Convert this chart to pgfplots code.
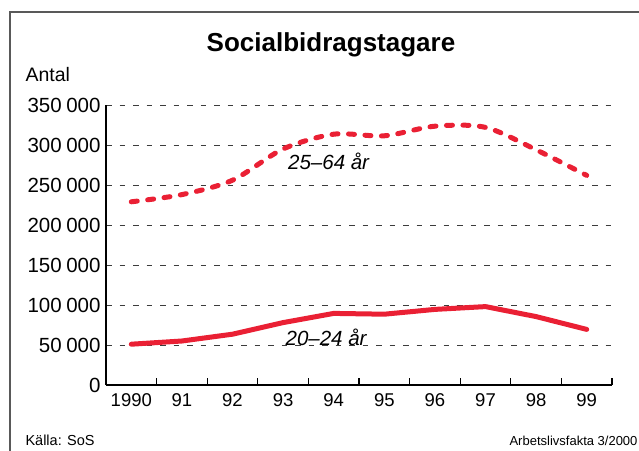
\documentclass[border=0pt]{standalone}
\usepackage{fontspec}
\setmainfont{Liberation Sans}
\usepackage{pgfplots}
\pgfplotsset{compat=1.18}
\definecolor{sred}{RGB}{234,32,52}
\definecolor{gridc}{RGB}{60,60,60}
\newcommand{\ts}{\hspace{0.22em}}
\begin{document}
\begin{tikzpicture}
% frame
\draw[line width=1.3pt, black!65] (10pt,-5pt) -- (10pt,438pt) -- (645pt,438pt);
% title
\node[font=\bfseries\fontsize{26}{29}\selectfont] at (331pt,405pt) {Socialbidragstagare};
\node[anchor=west,font=\fontsize{19.5}{22}\selectfont] at (22pt,375pt) {Antal};
\node[anchor=west,font=\fontsize{14.5}{16}\selectfont] at (22pt,10pt) {Källa: SoS};
\node[anchor=east,font=\fontsize{13}{15}\selectfont] at (641pt,9pt) {Arbetslivsfakta 3/2000};
\begin{axis}[
  at={(106pt,65pt)}, anchor=south west,
  scale only axis, width=506pt, height=280pt,
  xmin=-0.5, xmax=9.5, ymin=0, ymax=350000,
  axis x line*=bottom, axis y line*=left,
  axis line style={line width=1.2pt, black, -},
  xtick={0,...,9},
  xticklabels={1990,91,92,93,94,95,96,97,98,99},
  minor xtick={0.5,1.5,...,9.5},
  x tick style={draw=none},
  minor x tick style={draw=black, line width=1.1pt},
  minor tick length=7pt,
  tick align=inside,
  scaled y ticks=false,
  ytick={0,50000,100000,150000,200000,250000,300000,350000},
  yticklabels={0,50\ts000,100\ts000,150\ts000,200\ts000,250\ts000,300\ts000,350\ts000},
  y tick style={draw=none},
  major tick length=0pt,
  ymajorgrids,
  grid style={gridc, line width=0.9pt, dash pattern=on 5.5pt off 8pt},
  yticklabel style={font=\fontsize{20.5}{23}\selectfont, xshift=-2pt},
  xticklabel style={font=\fontsize{18.5}{21}\selectfont, yshift=-5pt},
]
\addplot[sred, line width=5pt, line cap=round, dash pattern=on 6pt off 10.5pt, smooth, tension=0.5] coordinates {
 (0,229000) (1,238000) (2,256000) (3,295000) (4,313500) (5,311500) (6,323500) (7,322000) (8,294000) (9,262000)
};
\addplot[sred, line width=5pt, line cap=round, line join=round] coordinates {
 (0,51000) (1,55000) (2,63500) (3,78000) (4,89500) (5,88500) (6,94500) (7,98000) (8,85500) (9,69500)
};
\node[font=\itshape\fontsize{20.5}{24}\selectfont] at (axis cs:3.9,280000) {25–64 år};
\node[font=\itshape\fontsize{20.5}{24}\selectfont] at (axis cs:3.85,59000) {20–24 år};
\end{axis}
\pgfresetboundingbox
\useasboundingbox (0pt,0pt) rectangle (639pt,450pt);
\end{tikzpicture}
\end{document}
